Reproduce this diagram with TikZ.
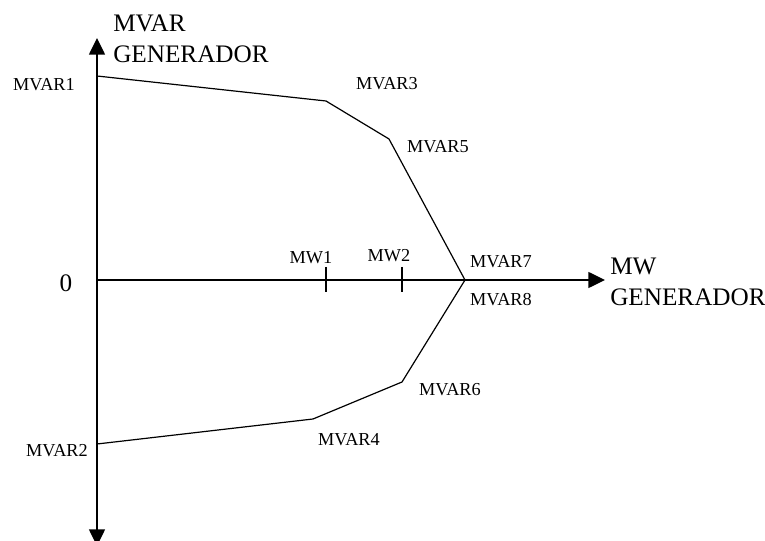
\documentclass[tikz,border=0pt]{standalone}
\usepackage{fontspec}
\setmainfont{Liberation Serif}
\usetikzlibrary{arrows.meta}

\begin{document}
\begin{tikzpicture}[x=0.75pt,y=-0.75pt,
		eje/.style={line width=1.1pt, -{Triangle[length=12.5pt,width=12pt]}},
		curva/.style={line width=0.9pt, line join=miter},
		marca/.style={line width=0.9pt},
		etiq/.style={font=\fontsize{13.7}{16}\selectfont, inner sep=0pt},
		titulo/.style={font=\fontsize{18.9}{23.3}\selectfont, inner sep=0pt, align=left, anchor=north west}]
		\useasboundingbox (0,0) rectangle (765,541);
		% ejes
		\coordinate (origen) at (97,280);
		\coordinate (arriba) at (97,38);
		\coordinate (abajo) at (97,546);
		\coordinate (derecha) at (605,280);
		\draw[eje] (origen) to (arriba);
		\draw[eje] (origen) to (abajo);
		\draw[eje] (origen) to (derecha);
		% curva de capacidad
		\coordinate (mvar1) at (97,76);
		\coordinate (mvar3) at (326,101);
		\coordinate (mvar5) at (389,139);
		\coordinate (mvar7) at (465,280);
		\coordinate (mvar6) at (402,382);
		\coordinate (mvar4) at (313,419);
		\coordinate (mvar2) at (97,444);
		\draw[curva] (mvar1) -- (mvar3) -- (mvar5) -- (mvar7) -- (mvar6) -- (mvar4) -- (mvar2);
		% marcas MW1 y MW2
		\coordinate (mw1a) at (326,267);
		\coordinate (mw1b) at (326,292);
		\coordinate (mw2a) at (402,267);
		\coordinate (mw2b) at (402,292);
		\draw[marca] (mw1a) -- (mw1b);
		\draw[marca] (mw2a) -- (mw2b);
		% etiquetas
		\node[titulo] (ejey) at (113,15) {MVAR\\GENERADOR};
		\node[titulo] (ejex) at (610,258) {MW\\GENERADOR};
		\node[font=\fontsize{18.9}{23}\selectfont, inner sep=0pt] (cero) at (66,283) {0};
		\node[etiq] (lmvar1) at (44,85) {MVAR1};
		\node[etiq] (lmvar2) at (57,451) {MVAR2};
		\node[etiq] (lmvar3) at (387,84) {MVAR3};
		\node[etiq] (lmvar4) at (349,440) {MVAR4};
		\node[etiq] (lmvar5) at (438,147) {MVAR5};
		\node[etiq] (lmvar6) at (450,390) {MVAR6};
		\node[etiq] (lmvar7) at (501,262) {MVAR7};
		\node[etiq] (lmvar8) at (501,300) {MVAR8};
		\node[etiq] (lmw1) at (311,258) {MW1};
		\node[etiq] (lmw2) at (389,256) {MW2};
\end{tikzpicture}
\end{document}
